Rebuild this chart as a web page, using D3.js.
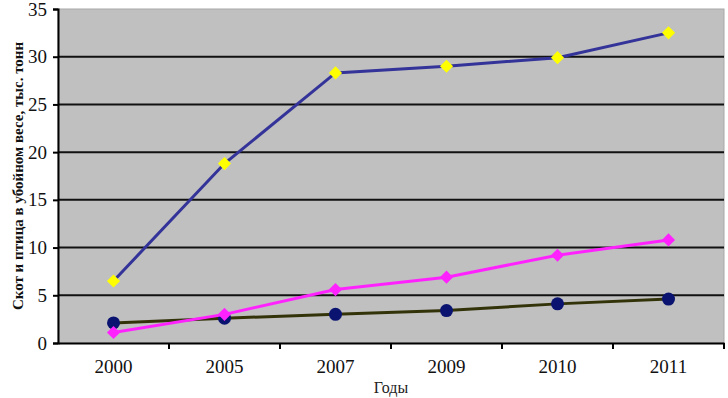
<!DOCTYPE html>
<html>
<head>
<meta charset="utf-8">
<script src="https://cdn.jsdelivr.net/npm/d3@7"></script>
<style>
  body { margin: 0; background: #fff; }
  svg text { font-family: "Liberation Serif", "DejaVu Serif", "Times New Roman", serif; }
</style>
</head>
<body>
<div id="chart"></div>
<script>
// Years on the x axis
var years = ["2000", "2005", "2007", "2009", "2010", "2011"];
// The three series
var seriesTop = [6.5, 18.8, 28.3, 29.0, 29.9, 32.5];
var seriesPink = [1.1, 3.0, 5.6, 6.9, 9.2, 10.8];
var seriesNavy = [2.1, 2.6, 3.0, 3.4, 4.1, 4.6];
var yTicks = [0, 5, 10, 15, 20, 25, 30, 35];

var width = 728;
var height = 398;
var margin = {top: 9, right: 4, bottom: 55, left: 58};

const svg = d3.select("#chart")
    .append("svg")
    .attr("width", width)
    .attr("height", height);

var x = d3.scaleBand()
    .domain(years)
    .range([margin.left, width - margin.right]);

var y = d3.scaleLinear()
    .domain([0, 35])
    .range([height - margin.bottom, margin.top]);

// Gray plot area
svg.append("rect")
    .attr("x", margin.left)
    .attr("y", margin.top)
    .attr("width", width - margin.left - margin.right)
    .attr("height", height - margin.top - margin.bottom)
    .attr("fill", "#c0c0c0")
    .attr("stroke", "#a8a8a8")
    .attr("stroke-width", 1);

// Horizontal grid lines
svg.append("g")
    .selectAll("line")
    .data(yTicks.filter(d => d > 0 && d < 35))
    .join("line")
      .attr("x1", margin.left)
      .attr("x2", width - margin.right)
      .attr("y1", d => y(d))
      .attr("y2", d => y(d))
      .attr("stroke", "#111")
      .attr("stroke-width", 2);

// Y axis
var yAxis = svg.append("g")
    .attr("transform", `translate(${margin.left},0)`)
    .call(d3.axisLeft(y).tickValues(yTicks).tickSize(5).tickPadding(6))
    .attr("font-family", null)
    .attr("font-size", 19);
yAxis.select(".domain").attr("stroke", "#000").attr("stroke-width", 2);
yAxis.selectAll(".tick line").attr("stroke", "#000").attr("stroke-width", 2);
yAxis.selectAll("text").attr("fill", "#111");

// X axis: ticks sit between the categories
var xAxis = svg.append("g")
    .attr("transform", `translate(0,${height - margin.bottom})`)
    .call(d3.axisBottom(x).tickSize(0).tickPadding(17))
    .attr("font-family", null)
    .attr("font-size", 19);
xAxis.select(".domain").attr("stroke", "#000").attr("stroke-width", 2);
xAxis.selectAll("text").attr("fill", "#111");
xAxis.selectAll(".sep")
    .data(years)
    .join("line")
      .attr("class", "sep")
      .attr("x1", d => x(d) + x.bandwidth())
      .attr("x2", d => x(d) + x.bandwidth())
      .attr("y1", 0)
      .attr("y2", 6)
      .attr("stroke", "#000")
      .attr("stroke-width", 2);

// Axis titles
svg.append("text")
    .attr("transform", `translate(18,${(margin.top + height - margin.bottom) / 2}) rotate(-90)`)
    .attr("text-anchor", "middle")
    .attr("dy", "0.35em")
    .attr("font-size", 15)
    .attr("font-weight", "bold")
    .attr("fill", "#111")
    .text("Скот и птица в убойном весе, тыс. тонн");

svg.append("text")
    .attr("x", (margin.left + width - margin.right) / 2)
    .attr("y", 393)
    .attr("text-anchor", "middle")
    .attr("font-size", 16)
    .attr("fill", "#222")
    .text("Годы");

var line = d3.line()
    .x((d, i) => x(years[i]) + x.bandwidth() / 2)
    .y(d => y(d));

var diamond = d3.symbol().type(d3.symbolDiamond2).size(110);

function drawSeries(values, lineColor, markerColor, marker) {
    svg.append("path")
        .datum(values)
        .attr("fill", "none")
        .attr("stroke", lineColor)
        .attr("stroke-width", 3)
        .attr("d", line);

    var g = svg.append("g")
        .selectAll("g")
        .data(values)
        .join("g")
          .attr("transform", (d, i) => `translate(${x(years[i]) + x.bandwidth() / 2},${y(d)})`);
    if (marker === "circle") {
        g.append("circle")
            .attr("r", 6.5)
            .attr("fill", markerColor);
    } else {
        g.append("path")
            .attr("d", diamond)
            .attr("fill", markerColor);
    }
}

drawSeries(seriesNavy, "#33330a", "#0a1470", "circle");
drawSeries(seriesPink, "#ff22ff", "#ff22ff", "diamond");
drawSeries(seriesTop, "#333399", "#ffff00", "diamond");
</script>
</body>
</html>
